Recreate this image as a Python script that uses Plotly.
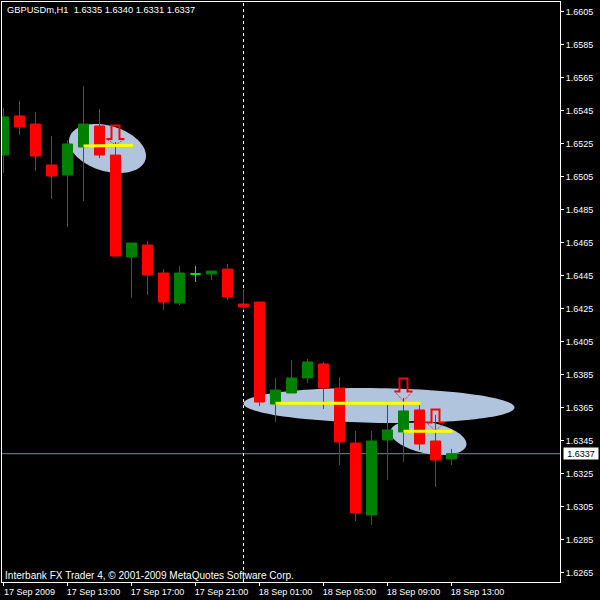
import numpy as np
import plotly.graph_objects as go

# --- candle data (hour index from 17 Sep 2009 09:00) ---
hours = list(range(29))
opens = [1.65180,1.65417,1.65368,1.65120,1.65059,1.65229,1.65356,1.65180,1.64562,1.64635,
         1.64465,1.64283,1.64459,1.64459,1.64489,1.64277,1.64289,1.63671,1.63738,1.63829,
         1.63914,1.63768,1.63435,1.62998,1.63453,1.63502,1.63635,1.63447,1.63338]
highs = [1.65465,1.65508,1.65441,1.65295,1.65271,1.65598,1.65459,1.65259,1.64647,1.64659,
         1.64489,1.64508,1.64508,1.64477,1.64520,1.64368,1.64289,1.63829,1.63938,1.63944,
         1.63926,1.63835,1.63508,1.63508,1.63665,1.63708,1.63665,1.63604,1.63398]
lows = [1.65071,1.65302,1.65083,1.64914,1.64744,1.64901,1.65162,1.64568,1.64314,1.64332,
        1.64241,1.64271,1.64411,1.64423,1.64302,1.64241,1.63659,1.63562,1.63738,1.63798,
        1.63641,1.63302,1.62962,1.62938,1.63211,1.63320,1.63392,1.63168,1.63302]
closes = [1.65411,1.65350,1.65174,1.65053,1.65247,1.65368,1.65180,1.64568,1.64647,1.64453,
          1.64289,1.64465,1.64459,1.64477,1.64320,1.64259,1.63683,1.63756,1.63829,1.63926,
          1.63768,1.63441,1.63011,1.63447,1.63514,1.63629,1.63429,1.63332,1.63370]
DOJI = 12

x_ticks = [0, 4, 8, 12, 16, 20, 24, 28]
x_labels = ["17 Sep 2009", "17 Sep 13:00", "17 Sep 17:00", "17 Sep 21:00",
            "18 Sep 01:00", "18 Sep 05:00", "18 Sep 09:00", "18 Sep 13:00"]
y_ticks = [1.6605, 1.6585, 1.6565, 1.6545, 1.6525, 1.6505, 1.6485, 1.6465, 1.6445,
           1.6425, 1.6405, 1.6385, 1.6365, 1.6345, 1.6325, 1.6305, 1.6285, 1.6265]
bid = 1.6337
cursor_hour = 15

# ellipse centre x, half width, centre y, half extent, tip tilt
ell_cx = [6.5, 23.47, 26.56]
ell_a = [2.406, 8.47, 2.375]
ell_cy = [1.652197, 1.636621, 1.634652]
ell_h = [0.001485, 0.00106, 0.00103]
ell_k = [0.00045, 0.000121, 0.000364]

# yellow lines
line_x0 = [5, 17, 25]
line_x1 = [8.1, 26.06, 28.06]
line_y0 = [1.65235, 1.63675, 1.63506]
line_y1 = [1.65239, 1.63675, 1.63506]

# sell arrows
arrow_x = [7, 25, 27]
arrow_top = [1.65359, 1.63826, 1.63638]
arrow_wing = [1.65277, 1.63747, 1.63559]
arrow_tip = [1.65241, 1.63689, 1.63508]

FONT = "Liberation Sans"
fig = go.Figure()

idx = [i for i in hours if i != DOJI]
fig.add_trace(go.Candlestick(
    x=[hours[i] for i in idx], open=[opens[i] for i in idx], high=[highs[i] for i in idx],
    low=[lows[i] for i in idx], close=[closes[i] for i in idx],
    increasing=dict(line=dict(color="#008000", width=1), fillcolor="#008000"),
    decreasing=dict(line=dict(color="#ff0000", width=1), fillcolor="#ff0000"),
    whiskerwidth=0, showlegend=False, hoverinfo="skip"))
fig.add_trace(go.Candlestick(
    x=[hours[DOJI]], open=[opens[DOJI]], high=[highs[DOJI]], low=[lows[DOJI]], close=[closes[DOJI]],
    increasing=dict(line=dict(color="#00ff00", width=1), fillcolor="#00ff00"),
    decreasing=dict(line=dict(color="#00ff00", width=1), fillcolor="#00ff00"),
    whiskerwidth=0, showlegend=False, hoverinfo="skip"))

# arrows
for cx, top, wing, tip in zip(arrow_x, arrow_top, arrow_wing, arrow_tip):
    fig.add_trace(go.Scatter(
        x=[cx - 0.56, cx - 0.25, cx - 0.25, cx + 0.25, cx + 0.25, cx + 0.56],
        y=[wing, wing, top, top, wing, wing], mode="lines",
        line=dict(color="#ff0000", width=2), showlegend=False, hoverinfo="skip"))
    fig.add_trace(go.Scatter(
        x=[cx - 0.56, cx, cx + 0.56], y=[wing, tip, wing], mode="lines",
        line=dict(color="#ff0000", width=1, dash="1px,1px"), showlegend=False, hoverinfo="skip"))

# yellow lines
for x0, x1, y0, y1 in zip(line_x0, line_x1, line_y0, line_y1):
    fig.add_trace(go.Scatter(x=[x0, x1], y=[y0, y1], mode="lines",
                             line=dict(color="#ffff00", width=3), showlegend=False, hoverinfo="skip"))

# ellipses: shared even-odd path so the overlap shows black
t = np.linspace(0, 2 * np.pi, 121)[:-1]
def ell_path(i):
    xs = ell_cx[i] + ell_a[i] * np.cos(t)
    b = np.sqrt(ell_h[i] ** 2 - ell_k[i] ** 2)
    ys = ell_cy[i] - ell_k[i] * np.cos(t) + b * np.sin(t)
    return "M" + "L".join(f"{a:.4f},{c:.6f}" for a, c in zip(xs, ys)) + "Z"

shapes = [
    dict(type="path", path=ell_path(0) + ell_path(1) + ell_path(2), fillcolor="#b0c4de",
         line=dict(width=0), layer="below", fillrule="evenodd"),
    dict(type="line", xref="paper", x0=0, x1=1, y0=bid, y1=bid,
         line=dict(color="#778899", width=1), layer="below"),
    dict(type="line", yref="paper", x0=cursor_hour, x1=cursor_hour, y0=0, y1=1,
         line=dict(color="#ffffff", width=1, dash="3px,3px"), layer="below"),
]

annotations = [
    dict(text="GBPUSDm,H1  1.6335 1.6340 1.6331 1.6337", xref="paper", yref="paper",
         x=0.0045, y=0.9865, xanchor="left", yanchor="middle", showarrow=False,
         font=dict(family=FONT, size=9.3, color="#ffffff")),
    dict(text="Interbank FX Trader 4, © 2001-2009 MetaQuotes Software Corp.", xref="paper", yref="paper",
         x=0.0025, y=0.0115, xanchor="left", yanchor="middle", showarrow=False,
         font=dict(family=FONT, size=10.05, color="#ffffff")),
    dict(text=f"{bid:.4f}", xref="paper", yref="y", x=1.005, y=bid, xanchor="left", yanchor="middle",
         showarrow=False, bgcolor="#ffffff", borderpad=0, width=34, height=11, align="center",
         font=dict(family=FONT, size=9, color="#000000")),
]

fig.update_layout(
    width=600, height=600, margin=dict(l=2, r=40, t=2, b=18),
    paper_bgcolor="#000000", plot_bgcolor="#000000", boxmode="overlay", boxgap=0.375, boxgroupgap=0,
    showlegend=False, shapes=shapes, annotations=annotations,
    font=dict(family=FONT, size=9, color="#ffffff"),
    xaxis=dict(range=[-0.09375, 34.78125], tickmode="array", tickvals=x_ticks, ticktext=x_labels,
               showgrid=False, zeroline=False, rangeslider=dict(visible=False),
               showline=True, linecolor="#ffffff", linewidth=1, mirror=True,
               ticks="outside", ticklen=3, tickcolor="#ffffff", ticklabelshift=26,
               ticklabelstandoff=-2,
               tickangle=0, tickfont=dict(family=FONT, size=9, color="#ffffff")),
    yaxis=dict(range=[1.625924, 1.661076], side="right", tickmode="array", tickvals=y_ticks,
               ticktext=[f"{v:.4f}" for v in y_ticks], showgrid=False, zeroline=False,
               showline=True, linecolor="#ffffff", linewidth=1, mirror=True,
               ticks="outside", ticklen=3, tickcolor="#ffffff",
               tickfont=dict(family=FONT, size=9, color="#ffffff")),
)
fig.write_html("out.html", config=dict(displayModeBar=False),
               post_script="document.body.style.margin='0';document.documentElement.style.overflow='hidden';document.documentElement.style.background='#000';")
